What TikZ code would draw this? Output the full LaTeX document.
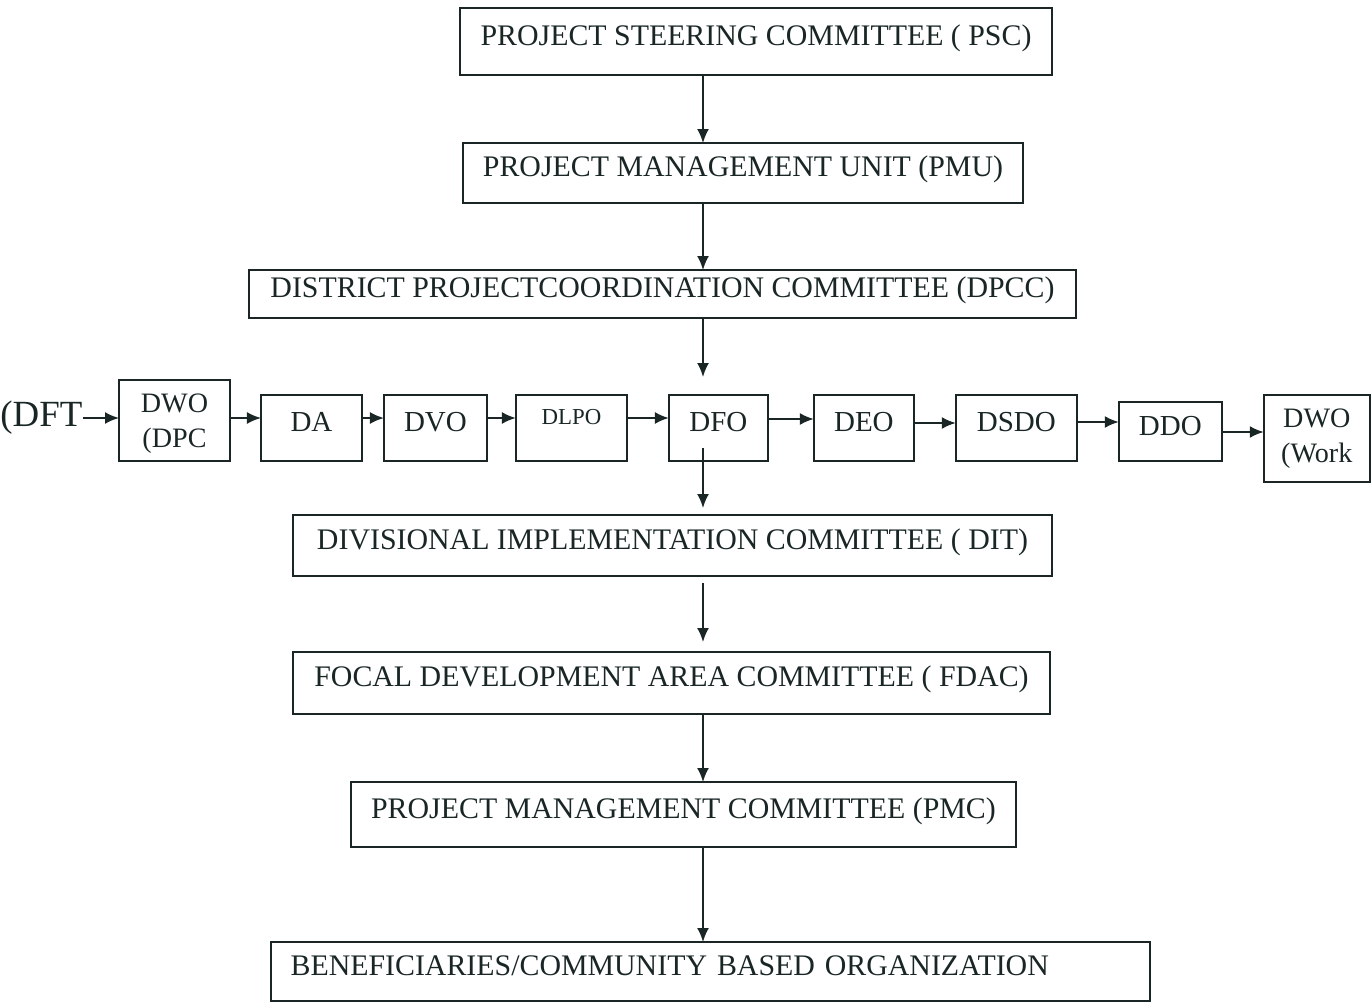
\documentclass[tikz,border=0pt]{standalone}
\usepackage{fontspec}
\setmainfont{Liberation Serif}
\usetikzlibrary{arrows.meta, positioning}
\definecolor{ink}{HTML}{1A2626}
\tikzset{
    block/.style = {rectangle, draw=ink, text=ink, text centered, font=\fontsize{17}{20}\selectfont, text height=0.4cm, text depth=0.25cm, line width=1.1pt, outer sep=0pt},
    unit/.style = {rectangle, draw=ink, text=ink, text centered, font=\fontsize{16.5}{20}\selectfont, text height=0.4cm, text depth=0.25cm, line width=1.1pt, outer sep=0pt, minimum height=1.32cm},
    twoline/.style = {rectangle, draw=ink, text=ink, align=center, font=\fontsize{16}{20}\selectfont, line width=1.1pt, outer sep=0pt},
    line/.style = {draw=ink, -{Latex[length=0.28cm, width=0.24cm]}, line width=1.1pt}
}

\begin{document}
\begin{tikzpicture}[x=0.02cm, y=-0.02cm, node distance=0.84cm]
        \useasboundingbox (0,0) rectangle (1372,1003);
        \coordinate (spine) at (703,0);
        % Committees
        \node [block, minimum width=11.84cm, minimum height=1.34cm] (psc) at (756,41.5) {PROJECT STEERING COMMITTEE ( PSC)};
        \node [block, minimum width=11.2cm, minimum height=1.2cm] (pmu) at (743,173) {PROJECT MANAGEMENT UNIT (PMU)};
        \node [block, minimum width=16.54cm, minimum height=0.96cm] (dpcc) at (662.5,294) {DISTRICT PROJECTCOORDINATION COMMITTEE (DPCC)};
        
        % District officers
        \node [text=ink, font=\fontsize{21}{24}\selectfont, inner sep=0pt, anchor=west] (dft) at (0,418) {(DFT};
        \node [twoline, minimum width=2.22cm, minimum height=1.62cm, text depth=0cm] (dwodpc) at (174.5,420.5) {DWO\\(DPC};
        \node [unit, minimum width=2.02cm, right=0.62cm of dwodpc, yshift=-0.15cm] (da) {DA};
        \node [unit, minimum width=2.06cm, right=0.44cm of da] (dvo) {DVO};
        \node [unit, minimum width=2.22cm, right=0.58cm of dvo, font=\fontsize{13}{16}\selectfont, text depth=0.55cm] (dlpo) {DLPO};
        \node [unit, minimum width=1.98cm, right=of dlpo] (dfo) {DFO};
        \node [unit, minimum width=2cm, right=0.92cm of dfo] (deo) {DEO};
        \node [unit, minimum width=2.42cm, right=of deo] (dsdo) {DSDO};
        \node [unit, minimum width=2.06cm, minimum height=1.18cm, right=of dsdo, yshift=-0.07cm] (ddo) {DDO};
        \node [twoline, minimum width=2.12cm, minimum height=1.74cm, right=of ddo, yshift=-0.14cm] (dwowork) {DWO\\(Work};
        
        \node [block, minimum width=15.18cm, minimum height=1.22cm] (dit) at (672.5,545.5) {DIVISIONAL IMPLEMENTATION COMMITTEE ( DIT)};
        \node [block, minimum width=15.14cm, minimum height=1.24cm] (fdac) at (671.5,683) {FOCAL DEVELOPMENT AREA COMMITTEE ( FDAC)};
        \node [block, minimum width=13.3cm, minimum height=1.3cm] (pmc) at (683.5,814.5) {PROJECT MANAGEMENT COMMITTEE (PMC)};
        \node [block, text width=16.8cm, inner xsep=0.39cm, align=left, minimum height=1.18cm] (cbo) at (710.5,971.5) {BENEFICIARIES/COMMUNITY BASED ORGANIZATION};
        
        % Edges
        \path [line] (psc.south -| spine) -- (pmu.north -| spine);
        \path [line] (pmu.south -| spine) -- (dpcc.north -| spine);
        \path [line, shorten >=0.36cm] (dpcc.south -| spine) -- (dfo.north -| spine);
        \path [line, shorten <=-0.26cm, shorten >=0.14cm] (dfo.south -| spine) -- (dit.north -| spine);
        \path [line, shorten <=0.14cm, shorten >=0.2cm] (dit.south -| spine) -- (fdac.north -| spine);
        \path [line] (fdac.south -| spine) -- (pmc.north -| spine);
        \path [line] (pmc.south -| spine) -- (cbo.north -| spine);
        
        \path [line] (dft.east) -- (dwodpc.west |- dft.east);
        \foreach \a/\b/\y in {dwodpc/da/418, da/dvo/418, dvo/dlpo/418, dlpo/dfo/418, dfo/deo/419, deo/dsdo/423, dsdo/ddo/422, ddo/dwowork/432}
            \path [line] (\a.east |- 0,\y) -- (\b.west |- 0,\y);
    \end{tikzpicture}
\end{document}
